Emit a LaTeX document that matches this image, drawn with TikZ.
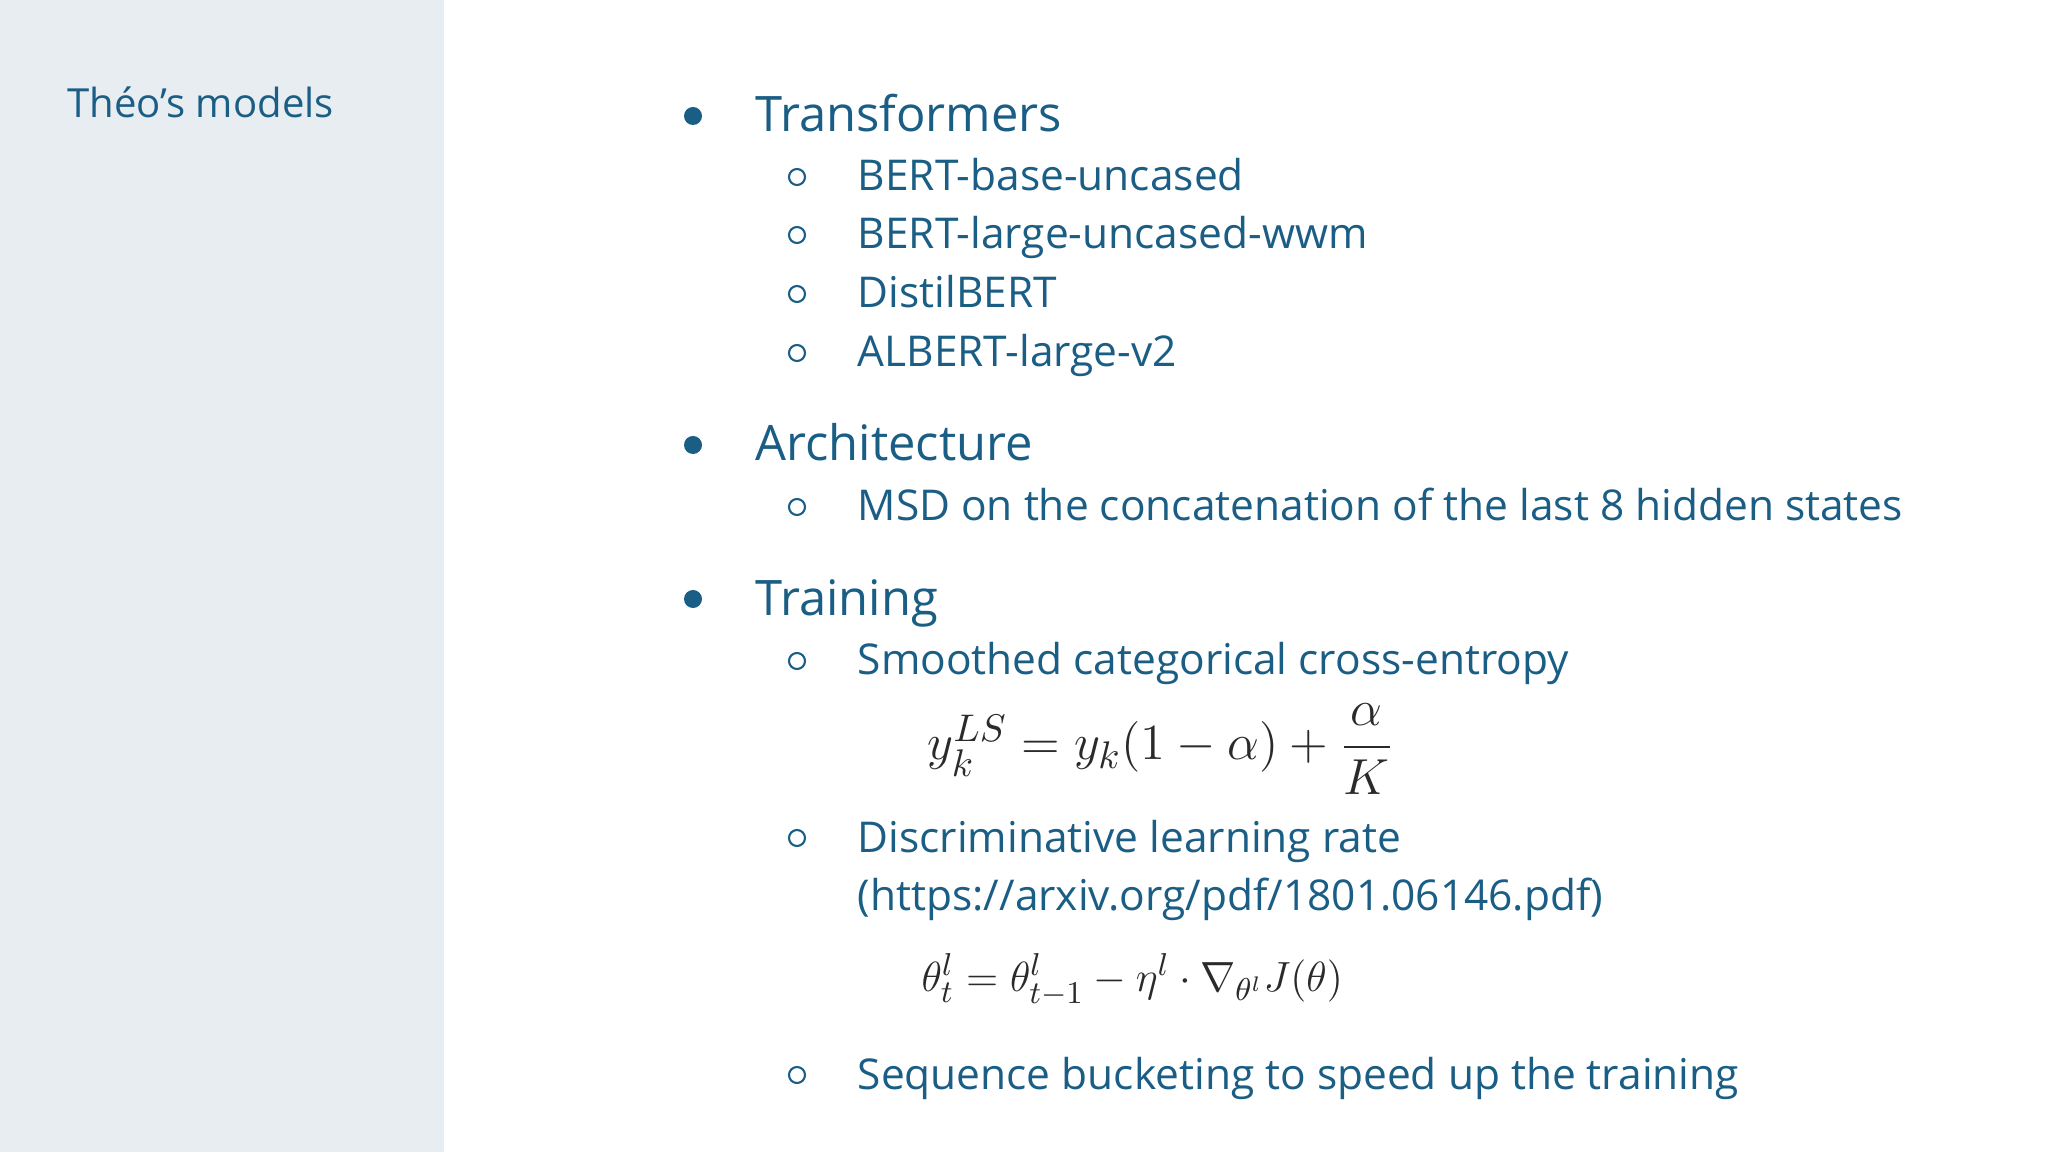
\documentclass[tikz,border=0pt]{standalone}
\usepackage{amsmath}
\usepackage{fontspec}
\setmainfont{Open Sans}
\definecolor{panel}{HTML}{E8EDF2}
\definecolor{ink}{HTML}{1B5E85}
\definecolor{mathc}{HTML}{2A2A2A}
\tikzset{
 lvl1/.style={anchor=base west,inner sep=0,text=ink,font=\fontsize{13.9}{17}\selectfont},
 lvl2/.style={anchor=base west,inner sep=0,text=ink,font=\fontsize{12.07}{14}\selectfont},
 dotb/.style={circle,fill=ink,inner sep=0,minimum size=0.18cm},
 circb/.style={circle,draw=ink,line width=0.6pt,inner sep=0,minimum size=0.16cm},
 mathn/.style={anchor=west,inner sep=0,text=mathc}
}
\begin{document}
\begin{tikzpicture}[x=0.01cm,y=-0.01cm]
\useasboundingbox (0,0) rectangle (2048,1152);
\fill[white] (0,0) rectangle (2048,1152);
\fill[panel] (0,0) rectangle (444,1152);
\node[lvl2,font=\fontsize{11.4}{13}\selectfont] (title) at (67,118) {Théo’s models};
% level 1
\node[dotb] (d1) at (693,116) {};
\node[lvl1] (t1) at (755,132) {Transformers};
\node[dotb] (d2) at (693,445) {};
\node[lvl1] (t2) at (755,461) {Architecture};
\node[dotb] (d3) at (693,599) {};
\node[lvl1] (t3) at (755,615) {Training};
% level 2
\foreach \n/\y/\t in {a/191/BERT-base-uncased,b/249/BERT-large-uncased-wwm,c/308/DistilBERT,d/367/ALBERT-large-v2,e/521/MSD on the concatenation of the last 8 hidden states,f/675/Smoothed categorical cross-entropy,g/852/Discriminative learning rate,h/1089/Sequence bucketing to speed up the training}{
 \node[circb] (c\n) at (797,\y-14) {};
 \node[lvl2] (s\n) at (857,\y) {\t};
}
\node[lvl2] (url) at (857,910) {(https://arxiv.org/pdf/1801.06146.pdf)};
\node[mathn] (f1) at (927,749) {\fontsize{15.7}{19}\selectfont$y_k^{LS}=y_k(1-\alpha)+\dfrac{\alpha}{K}$};
\node[mathn] (f2) at (921,980) {\fontsize{12.2}{15}\selectfont$\theta_t^l=\theta_{t-1}^l-\eta^l\cdot\nabla_{\theta^l}J(\theta)$};
\end{tikzpicture}
\end{document}
